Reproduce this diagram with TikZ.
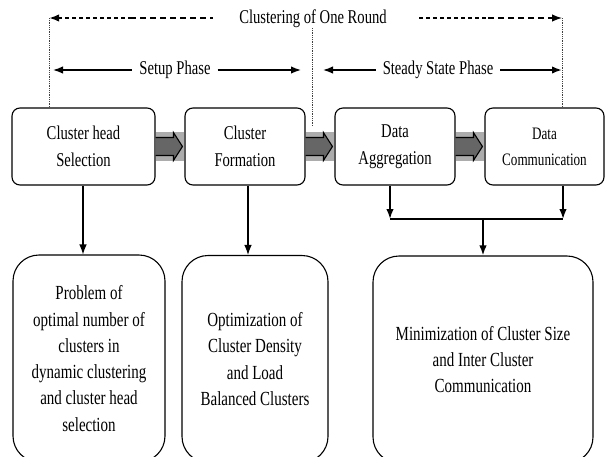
\documentclass[tikz,border=0pt]{standalone}
\usepackage{fontspec}
\setmainfont[FakeStretch=0.75]{Liberation Serif}
\usetikzlibrary{arrows.meta}
\newcommand{\blockarrow}[2]{%
  \fill[gray!65] ([yshift=14.5pt]#1.east) rectangle ([yshift=-14.5pt]#2.west);
  \draw[line width=1.1pt, fill=black!60] ([yshift=9pt]#1.east) -- ([xshift=-11pt,yshift=9pt]#2.west)
    -- ([xshift=-11pt,yshift=14pt]#2.west) -- ([xshift=-2pt]#2.west)
    -- ([xshift=-11pt,yshift=-14pt]#2.west) -- ([xshift=-11pt,yshift=-9pt]#2.west)
    -- ([yshift=-9pt]#1.east);}

\begin{document}
\begin{tikzpicture}[x=1pt, y=-1pt, font=\fontsize{19.5}{22}\selectfont,
    >={Latex[length=10pt,width=7.5pt]},
    stage/.style={draw, line width=1.1pt, rounded corners=8pt, minimum height=77pt,
      align=center, font=\fontsize{19.5}{27}\selectfont},
    issue/.style={draw, line width=1.1pt, rounded corners=26pt, minimum height=207pt,
      align=center, font=\fontsize{20}{26.3}\selectfont},
    phase/.style={inner sep=1pt, outer sep=6pt},
    guide/.style={densely dotted, line width=0.8pt, black!75}]
  \useasboundingbox (0,0) rectangle (605,456);
  % headings
  \node (round) at (313,19) {Clustering of One Round};
  \node[phase] (setup) at (175,70) {Setup Phase};
  \node[phase] (steady) at (438,70) {Steady State Phase};
  \coordinate (rL) at (49,18);
  \coordinate (rLm) at (130,18);
  \coordinate (rLe) at (213,18);
  \coordinate (rRs) at (419,18);
  \coordinate (rRm) at (488,18);
  \coordinate (rR) at (562,18);
  \coordinate (sL) at (53,70);
  \coordinate (sR) at (301,70);
  \coordinate (tL) at (323,70);
  \coordinate (tR) at (562,70);
  \coordinate (mT) at (312,28);
  \coordinate (mB) at (312,126);
  % stages
  \node[stage, minimum width=143pt] (B1) at (83.5,146.5) {Cluster head\\Selection};
  \node[stage, minimum width=120pt] (B2) at (245,146.5) {Cluster\\Formation};
  \node[stage, minimum width=120pt] (B3) at (395,146.5) {Data\\Aggregation};
  \node[stage, minimum width=119pt, font=\fontsize{17.5}{26}\selectfont] (B4) at (544.5,146.5) {Data\\Communication};
  % issues
  \node[issue, minimum width=152pt] (P1) at (89,358.5) {Problem of\\optimal number of\\clusters in\\dynamic clustering\\and cluster head\\selection};
  \node[issue, minimum width=146pt] (P2) at (255,359) {Optimization of\\Cluster Density\\and Load\\Balanced Clusters};
  \node[issue, minimum width=220pt] (P3) at (483,359.5) {Minimization of Cluster Size\\and Inter Cluster\\Communication};
  \coordinate (J3) at (390,219);
  \coordinate (J4) at (563,219);
  % round and phases
  \draw[<-, line width=2.6pt, dash pattern=on 4pt off 3pt] (rL) to (rLm);
  \draw[line width=1.3pt, dash pattern=on 6pt off 4pt] (rLm) to (rLe);
  \draw[line width=2.6pt, dash pattern=on 4pt off 3pt] (rRs) to (rRm);
  \draw[->, line width=1.3pt, dash pattern=on 6pt off 4pt] (rRm) to (rR);
  \draw[<-, line width=1.5pt] (sL) to (setup.west);
  \draw[->, line width=1.5pt] (setup.east) to (sR);
  \draw[<-, line width=1.5pt] (tL) to (steady.west);
  \draw[->, line width=2.6pt] (steady.east) to (tR);
  \draw[guide] (rL) to (rL |- B1.north);
  \draw[guide] (mT) to (mB);
  \draw[guide] (rR) to (rR |- B4.north);
  % flow
  \blockarrow{B1}{B2}
  \blockarrow{B2}{B3}
  \blockarrow{B3}{B4}
  \draw[->, line width=1.1pt] ([xshift=-0.5pt]B1.south) to ([xshift=-0.5pt]B1.south |- P1.north);
  \draw[->, line width=1.1pt] ([xshift=3pt]B2.south) to ([xshift=3pt]B2.south |- P2.north);
  \draw[->, line width=1.6pt] (B3.south -| J3) to (J3);
  \draw[->, line width=1.6pt] (B4.south -| J4) to (J4);
  \draw[line width=1.6pt] (J3) to (J4);
  \draw[->, line width=1.8pt] (J3 -| P3.north) to (P3.north);
\end{tikzpicture}
\end{document}
